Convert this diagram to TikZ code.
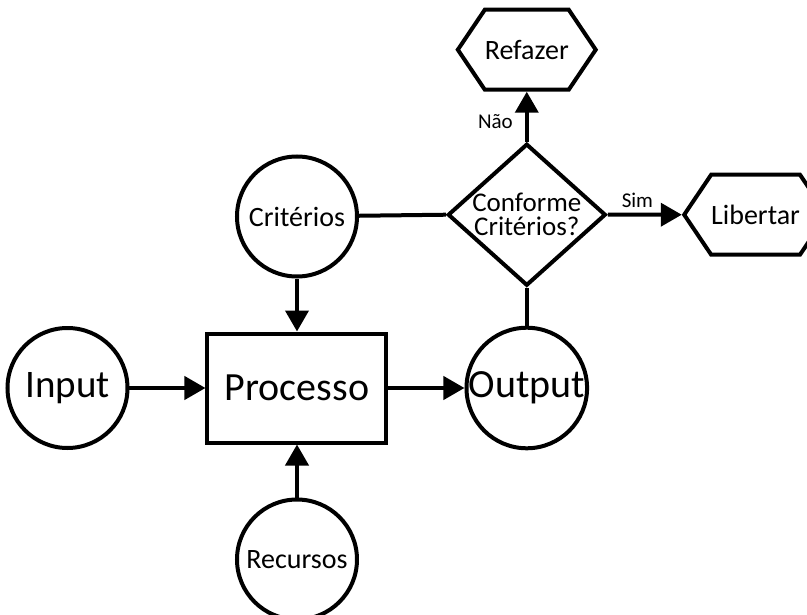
\documentclass[tikz,border=0pt]{standalone}
\usepackage{fontspec}
\setmainfont{Carlito}
\usetikzlibrary{arrows.meta,positioning,shapes.geometric,shapes.symbols}

\begin{document}
\begin{tikzpicture}[
  x=1pt,y=1pt,
  line width=4pt,
  circ/.style={draw,circle,minimum size=120pt,inner sep=0pt,align=center},
  box/.style={draw,rectangle,minimum width=179pt,minimum height=109pt,font=\fontsize{40}{44}\selectfont},
  decision/.style={draw,diamond,aspect=1.11,inner sep=0pt,minimum width=158pt,minimum height=142pt,align=center,font=\fontsize{27}{24}\selectfont},
  hexa/.style={draw,signal,signal to=west and east,signal pointer angle=112,minimum width=132pt,minimum height=80pt,inner sep=0pt,font=\fontsize{28}{32}\selectfont},
  arrow/.style={-{Triangle[length=21pt,width=23pt]}},
  link/.style={-},
  small/.style={font=\fontsize{21}{24}\selectfont,inner sep=0pt}
]
\useasboundingbox (-297,-226) rectangle (510,388);
\node[box] (proc) {Processo};
\node[circ,font=\fontsize{39}{44}\selectfont,left=76pt of proc] (input) {Input};
\node[circ,font=\fontsize{40}{44}\selectfont,right=76pt of proc] (output) {Output};
\node[circ,font=\fontsize{28}{32}\selectfont,above=53pt of proc] (crit) {Critérios};
\node[circ,font=\fontsize{28}{32}\selectfont,below=53pt of proc] (recur) {Recursos};
\node[decision,above=38pt of output] (dec) {Conforme\\Critérios?};
\node[hexa,above=50pt of dec] (refazer) {Refazer};
\node[hexa,right=74pt of dec] (libertar) {Libertar};
% ligacoes
\draw[arrow] (input)--(proc);
\draw[arrow] (crit)--(proc);
\draw[arrow] (recur)--(proc);
\draw[arrow] (proc)--(output);
\draw[link] (output)--(dec);
\draw[link] (crit)--(dec.west);
\draw[arrow] (dec)--(refazer) node[small,pos=0.4,left=12pt] (nao) {Não};
\draw[arrow] (dec)--(libertar) node[small,pos=0.4,above=5pt] (sim) {Sim};
\end{tikzpicture}
\end{document}
